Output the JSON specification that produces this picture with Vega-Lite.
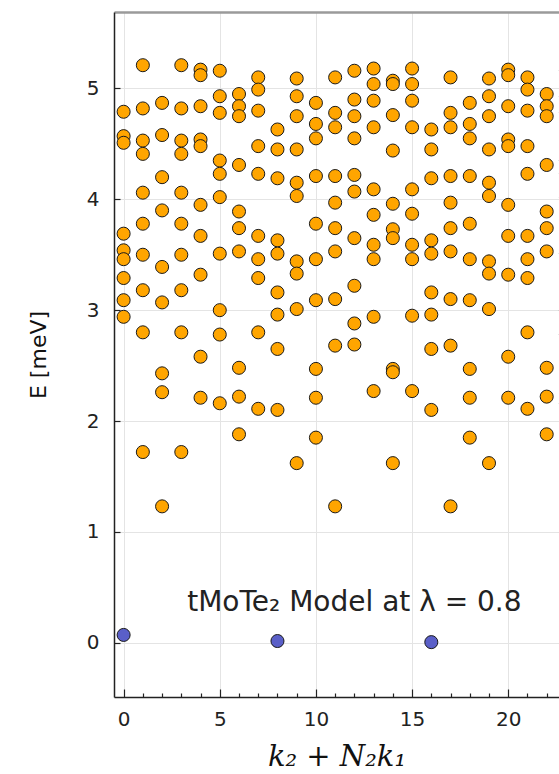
{
  "$schema": "https://vega.github.io/schema/vega-lite/v6.json",
  "autosize": {"type": "none"},
  "padding": {"left": 114, "top": 12, "right": 0, "bottom": 77},
  "width": 445,
  "height": 685,
  "background": "white",
  "config": {
    "view": {"stroke": null},
    "axis": {
      "labelFont": "DejaVu Sans",
      "labelFontSize": 20,
      "labelColor": "#222",
      "titleColor": "#111",
      "titleFontWeight": "normal",
      "gridColor": "#e4e4e4",
      "gridWidth": 1,
      "domainColor": "#222",
      "domainWidth": 1.5,
      "tickColor": "#222",
      "tickWidth": 1.2
    }
  },
  "resolve": {"axis": {"x": "independent"}},
  "layer": [
    {
      "data": {
        "values": [
          {"k":0,"E":4.79,"t":"excited"},{"k":0,"E":4.57,"t":"excited"},{"k":0,"E":4.51,"t":"excited"},{"k":0,"E":3.69,"t":"excited"},{"k":0,"E":3.54,"t":"excited"},{"k":0,"E":3.46,"t":"excited"},{"k":0,"E":3.29,"t":"excited"},{"k":0,"E":3.09,"t":"excited"},{"k":0,"E":2.94,"t":"excited"},{"k":0,"E":0.07,"t":"ground"},
          {"k":1,"E":5.21,"t":"excited"},{"k":1,"E":4.82,"t":"excited"},{"k":1,"E":4.53,"t":"excited"},{"k":1,"E":4.41,"t":"excited"},{"k":1,"E":4.06,"t":"excited"},{"k":1,"E":3.78,"t":"excited"},{"k":1,"E":3.50,"t":"excited"},{"k":1,"E":3.18,"t":"excited"},{"k":1,"E":2.80,"t":"excited"},{"k":1,"E":1.72,"t":"excited"},
          {"k":2,"E":4.87,"t":"excited"},{"k":2,"E":4.58,"t":"excited"},{"k":2,"E":4.20,"t":"excited"},{"k":2,"E":3.90,"t":"excited"},{"k":2,"E":3.39,"t":"excited"},{"k":2,"E":3.07,"t":"excited"},{"k":2,"E":2.43,"t":"excited"},{"k":2,"E":2.26,"t":"excited"},{"k":2,"E":1.23,"t":"excited"},
          {"k":3,"E":5.21,"t":"excited"},{"k":3,"E":4.82,"t":"excited"},{"k":3,"E":4.53,"t":"excited"},{"k":3,"E":4.41,"t":"excited"},{"k":3,"E":4.06,"t":"excited"},{"k":3,"E":3.78,"t":"excited"},{"k":3,"E":3.50,"t":"excited"},{"k":3,"E":3.18,"t":"excited"},{"k":3,"E":2.80,"t":"excited"},{"k":3,"E":1.72,"t":"excited"},
          {"k":4,"E":5.17,"t":"excited"},{"k":4,"E":5.12,"t":"excited"},{"k":4,"E":4.84,"t":"excited"},{"k":4,"E":4.54,"t":"excited"},{"k":4,"E":4.48,"t":"excited"},{"k":4,"E":3.95,"t":"excited"},{"k":4,"E":3.67,"t":"excited"},{"k":4,"E":3.32,"t":"excited"},{"k":4,"E":2.58,"t":"excited"},{"k":4,"E":2.21,"t":"excited"},
          {"k":5,"E":5.16,"t":"excited"},{"k":5,"E":4.93,"t":"excited"},{"k":5,"E":4.78,"t":"excited"},{"k":5,"E":4.35,"t":"excited"},{"k":5,"E":4.23,"t":"excited"},{"k":5,"E":4.02,"t":"excited"},{"k":5,"E":3.51,"t":"excited"},{"k":5,"E":3.00,"t":"excited"},{"k":5,"E":2.78,"t":"excited"},{"k":5,"E":2.16,"t":"excited"},
          {"k":6,"E":4.95,"t":"excited"},{"k":6,"E":4.84,"t":"excited"},{"k":6,"E":4.75,"t":"excited"},{"k":6,"E":4.31,"t":"excited"},{"k":6,"E":3.89,"t":"excited"},{"k":6,"E":3.74,"t":"excited"},{"k":6,"E":3.53,"t":"excited"},{"k":6,"E":2.48,"t":"excited"},{"k":6,"E":2.22,"t":"excited"},{"k":6,"E":1.88,"t":"excited"},
          {"k":7,"E":5.10,"t":"excited"},{"k":7,"E":4.99,"t":"excited"},{"k":7,"E":4.80,"t":"excited"},{"k":7,"E":4.48,"t":"excited"},{"k":7,"E":4.23,"t":"excited"},{"k":7,"E":3.67,"t":"excited"},{"k":7,"E":3.46,"t":"excited"},{"k":7,"E":3.29,"t":"excited"},{"k":7,"E":2.80,"t":"excited"},{"k":7,"E":2.11,"t":"excited"},
          {"k":8,"E":4.63,"t":"excited"},{"k":8,"E":4.45,"t":"excited"},{"k":8,"E":4.19,"t":"excited"},{"k":8,"E":3.63,"t":"excited"},{"k":8,"E":3.51,"t":"excited"},{"k":8,"E":3.16,"t":"excited"},{"k":8,"E":2.96,"t":"excited"},{"k":8,"E":2.65,"t":"excited"},{"k":8,"E":2.10,"t":"excited"},{"k":8,"E":0.015,"t":"ground"},
          {"k":9,"E":5.09,"t":"excited"},{"k":9,"E":4.93,"t":"excited"},{"k":9,"E":4.75,"t":"excited"},{"k":9,"E":4.45,"t":"excited"},{"k":9,"E":4.15,"t":"excited"},{"k":9,"E":4.03,"t":"excited"},{"k":9,"E":3.44,"t":"excited"},{"k":9,"E":3.33,"t":"excited"},{"k":9,"E":3.01,"t":"excited"},{"k":9,"E":1.62,"t":"excited"},
          {"k":10,"E":4.87,"t":"excited"},{"k":10,"E":4.68,"t":"excited"},{"k":10,"E":4.55,"t":"excited"},{"k":10,"E":4.21,"t":"excited"},{"k":10,"E":3.78,"t":"excited"},{"k":10,"E":3.46,"t":"excited"},{"k":10,"E":3.09,"t":"excited"},{"k":10,"E":2.47,"t":"excited"},{"k":10,"E":2.21,"t":"excited"},{"k":10,"E":1.85,"t":"excited"},
          {"k":11,"E":5.10,"t":"excited"},{"k":11,"E":4.78,"t":"excited"},{"k":11,"E":4.65,"t":"excited"},{"k":11,"E":4.21,"t":"excited"},{"k":11,"E":3.97,"t":"excited"},{"k":11,"E":3.74,"t":"excited"},{"k":11,"E":3.53,"t":"excited"},{"k":11,"E":3.10,"t":"excited"},{"k":11,"E":2.68,"t":"excited"},{"k":11,"E":1.23,"t":"excited"},
          {"k":12,"E":5.16,"t":"excited"},{"k":12,"E":4.90,"t":"excited"},{"k":12,"E":4.75,"t":"excited"},{"k":12,"E":4.55,"t":"excited"},{"k":12,"E":4.22,"t":"excited"},{"k":12,"E":4.07,"t":"excited"},{"k":12,"E":3.65,"t":"excited"},{"k":12,"E":3.22,"t":"excited"},{"k":12,"E":2.88,"t":"excited"},{"k":12,"E":2.69,"t":"excited"},
          {"k":13,"E":5.18,"t":"excited"},{"k":13,"E":5.04,"t":"excited"},{"k":13,"E":4.89,"t":"excited"},{"k":13,"E":4.65,"t":"excited"},{"k":13,"E":4.09,"t":"excited"},{"k":13,"E":3.86,"t":"excited"},{"k":13,"E":3.59,"t":"excited"},{"k":13,"E":3.46,"t":"excited"},{"k":13,"E":2.94,"t":"excited"},{"k":13,"E":2.27,"t":"excited"},
          {"k":14,"E":5.07,"t":"excited"},{"k":14,"E":5.04,"t":"excited"},{"k":14,"E":4.76,"t":"excited"},{"k":14,"E":4.44,"t":"excited"},{"k":14,"E":3.96,"t":"excited"},{"k":14,"E":3.73,"t":"excited"},{"k":14,"E":3.65,"t":"excited"},{"k":14,"E":2.47,"t":"excited"},{"k":14,"E":2.44,"t":"excited"},{"k":14,"E":1.62,"t":"excited"},
          {"k":15,"E":5.18,"t":"excited"},{"k":15,"E":5.04,"t":"excited"},{"k":15,"E":4.89,"t":"excited"},{"k":15,"E":4.65,"t":"excited"},{"k":15,"E":4.09,"t":"excited"},{"k":15,"E":3.87,"t":"excited"},{"k":15,"E":3.59,"t":"excited"},{"k":15,"E":3.46,"t":"excited"},{"k":15,"E":2.95,"t":"excited"},{"k":15,"E":2.27,"t":"excited"},
          {"k":16,"E":4.63,"t":"excited"},{"k":16,"E":4.45,"t":"excited"},{"k":16,"E":4.19,"t":"excited"},{"k":16,"E":3.63,"t":"excited"},{"k":16,"E":3.51,"t":"excited"},{"k":16,"E":3.16,"t":"excited"},{"k":16,"E":2.96,"t":"excited"},{"k":16,"E":2.65,"t":"excited"},{"k":16,"E":2.10,"t":"excited"},{"k":16,"E":0.005,"t":"ground"},
          {"k":17,"E":5.10,"t":"excited"},{"k":17,"E":4.78,"t":"excited"},{"k":17,"E":4.65,"t":"excited"},{"k":17,"E":4.21,"t":"excited"},{"k":17,"E":3.97,"t":"excited"},{"k":17,"E":3.74,"t":"excited"},{"k":17,"E":3.53,"t":"excited"},{"k":17,"E":3.10,"t":"excited"},{"k":17,"E":2.68,"t":"excited"},{"k":17,"E":1.23,"t":"excited"},
          {"k":18,"E":4.87,"t":"excited"},{"k":18,"E":4.68,"t":"excited"},{"k":18,"E":4.55,"t":"excited"},{"k":18,"E":4.21,"t":"excited"},{"k":18,"E":3.78,"t":"excited"},{"k":18,"E":3.46,"t":"excited"},{"k":18,"E":3.09,"t":"excited"},{"k":18,"E":2.47,"t":"excited"},{"k":18,"E":2.21,"t":"excited"},{"k":18,"E":1.85,"t":"excited"},
          {"k":19,"E":5.09,"t":"excited"},{"k":19,"E":4.93,"t":"excited"},{"k":19,"E":4.75,"t":"excited"},{"k":19,"E":4.45,"t":"excited"},{"k":19,"E":4.15,"t":"excited"},{"k":19,"E":4.03,"t":"excited"},{"k":19,"E":3.44,"t":"excited"},{"k":19,"E":3.33,"t":"excited"},{"k":19,"E":3.01,"t":"excited"},{"k":19,"E":1.62,"t":"excited"},
          {"k":20,"E":5.17,"t":"excited"},{"k":20,"E":5.12,"t":"excited"},{"k":20,"E":4.84,"t":"excited"},{"k":20,"E":4.54,"t":"excited"},{"k":20,"E":4.48,"t":"excited"},{"k":20,"E":3.95,"t":"excited"},{"k":20,"E":3.67,"t":"excited"},{"k":20,"E":3.32,"t":"excited"},{"k":20,"E":2.58,"t":"excited"},{"k":20,"E":2.21,"t":"excited"},
          {"k":21,"E":5.10,"t":"excited"},{"k":21,"E":4.99,"t":"excited"},{"k":21,"E":4.80,"t":"excited"},{"k":21,"E":4.48,"t":"excited"},{"k":21,"E":4.23,"t":"excited"},{"k":21,"E":3.67,"t":"excited"},{"k":21,"E":3.46,"t":"excited"},{"k":21,"E":3.29,"t":"excited"},{"k":21,"E":2.80,"t":"excited"},{"k":21,"E":2.11,"t":"excited"},
          {"k":22,"E":4.95,"t":"excited"},{"k":22,"E":4.84,"t":"excited"},{"k":22,"E":4.75,"t":"excited"},{"k":22,"E":4.31,"t":"excited"},{"k":22,"E":3.89,"t":"excited"},{"k":22,"E":3.74,"t":"excited"},{"k":22,"E":3.53,"t":"excited"},{"k":22,"E":2.48,"t":"excited"},{"k":22,"E":2.22,"t":"excited"},{"k":22,"E":1.88,"t":"excited"},
          {"k":23,"E":5.16,"t":"excited"},{"k":23,"E":4.93,"t":"excited"},{"k":23,"E":4.78,"t":"excited"},{"k":23,"E":4.35,"t":"excited"},{"k":23,"E":4.23,"t":"excited"},{"k":23,"E":4.02,"t":"excited"},{"k":23,"E":3.51,"t":"excited"},{"k":23,"E":3.00,"t":"excited"},{"k":23,"E":2.78,"t":"excited"},{"k":23,"E":2.16,"t":"excited"}
        ]
      },
      "mark": {"type": "point", "filled": true, "shape": "circle", "size": 170, "stroke": "#1a1a1a", "strokeWidth": 1, "opacity": 1, "clip": false},
      "encoding": {
        "x": {
          "field": "k", "type": "quantitative",
          "scale": {"domain": [-0.5, 22.64], "nice": false, "zero": false},
          "axis": {
            "orient": "bottom",
            "title": "k₂ + N₂k₁",
            "titleFont": "DejaVu Serif",
            "titleFontStyle": "italic",
            "titleFontSize": 29,
            "titlePadding": 13,
            "values": [0,1,2,3,4,5,6,7,8,9,10,11,12,13,14,15,16,17,18,19,20,21,22],
            "labelExpr": "datum.value % 5 === 0 ? datum.label : ''",
            "tickSize": {"condition": {"test": "datum.value % 5 === 0", "value": -8}, "value": -4},
            "labelPadding": 20,
            "gridOpacity": {"condition": {"test": "datum.value % 5 === 0", "value": 1}, "value": 0}
          }
        },
        "y": {
          "field": "E", "type": "quantitative",
          "scale": {"domain": [-0.49, 5.69], "nice": false, "zero": false},
          "axis": {
            "title": "E [meV]",
            "titleFont": "DejaVu Sans",
            "titleFontSize": 22,
            "titlePadding": 36,
            "format": "d",
            "values": [0,1,2,3,4,5],
            "tickSize": -6,
            "labelPadding": 21
          }
        },
        "fill": {
          "field": "t", "type": "nominal",
          "scale": {"domain": ["excited", "ground"], "range": ["#FFA500", "#5A5FC8"]},
          "legend": null
        }
      }
    },
    {
      "data": {"values": [{"k": 12.0, "E": 0.36, "label": "tMoTe₂ Model at λ = 0.8"}]},
      "mark": {"type": "text", "font": "DejaVu Sans", "fontSize": 28, "align": "center", "baseline": "middle", "color": "#222"},
      "encoding": {
        "x": {"field": "k", "type": "quantitative", "axis": {"orient": "top", "title": null, "labels": false, "ticks": false, "grid": false, "domainColor": "#9a9a9a", "domainWidth": 2.5}},
        "y": {"field": "E", "type": "quantitative"},
        "text": {"field": "label"}
      }
    }
  ]
}
